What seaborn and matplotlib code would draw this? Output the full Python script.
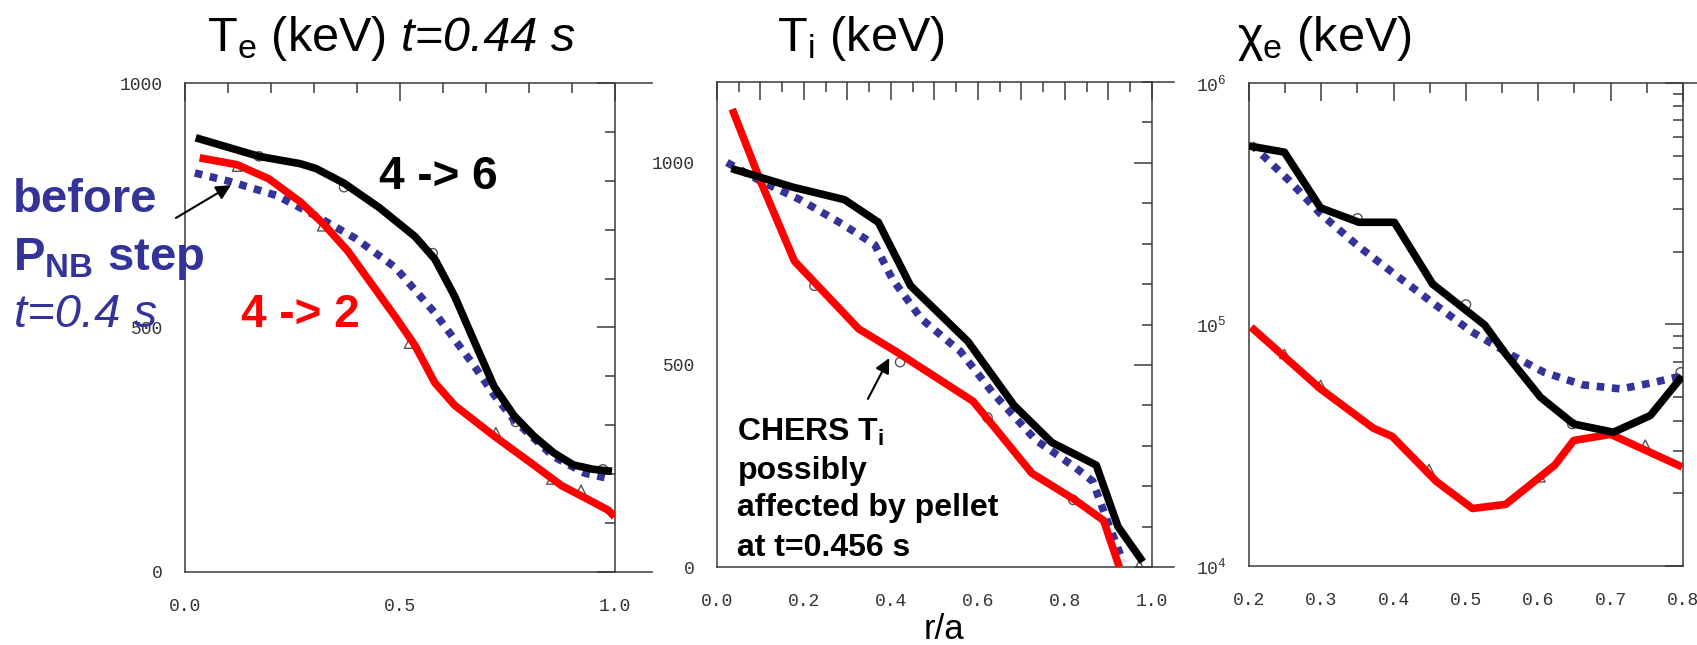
import matplotlib
matplotlib.use("Agg")
import matplotlib.pyplot as plt
import seaborn as sns
from matplotlib.ticker import FixedLocator

# Te profile (r/a vs Te, plotted on a 0-1000 scale)
te_up_x = [0.025, 0.172, 0.268, 0.305, 0.370, 0.452, 0.535, 0.581, 0.627, 0.673, 0.719, 0.765, 0.811, 0.857, 0.903, 0.949, 0.993]
te_up_y = [888, 850, 835, 825, 795, 745, 686, 640, 564, 471, 379, 320, 278, 244, 219, 210, 206]
te_dn_x = [0.034, 0.121, 0.195, 0.268, 0.323, 0.379, 0.434, 0.489, 0.535, 0.581, 0.627, 0.719, 0.811, 0.875, 0.949, 0.985, 0.999]
te_dn_y = [847, 833, 804, 757, 711, 656, 589, 522, 463, 387, 341, 278, 219, 177, 143, 126, 113]
te_pre_x = [0.023, 0.103, 0.213, 0.305, 0.397, 0.489, 0.581, 0.673, 0.719, 0.765, 0.857, 0.930, 0.976]
te_pre_y = [816, 799, 770, 728, 682, 623, 530, 421, 362, 311, 236, 202, 193]
te_circ_x = [0.172, 0.370, 0.576, 0.769, 0.972]
te_circ_y = [850, 787, 652, 307, 210]
te_tri_x = [0.121, 0.319, 0.521, 0.723, 0.852, 0.921]
te_tri_y = [829, 707, 467, 286, 189, 168]

# Ti profile
ti_up_x = [0.033, 0.174, 0.293, 0.371, 0.445, 0.577, 0.683, 0.770, 0.872, 0.922, 0.979]
ti_up_y = [986, 940, 909, 853, 696, 558, 400, 308, 252, 100, 13]
ti_dn_x = [0.035, 0.100, 0.178, 0.326, 0.412, 0.589, 0.724, 0.823, 0.889, 0.925]
ti_dn_y = [1133, 955, 757, 589, 533, 410, 232, 166, 115, 0]
ti_pre_x = [0.023, 0.100, 0.191, 0.289, 0.363, 0.404, 0.470, 0.560, 0.634, 0.733, 0.823, 0.864, 0.897, 0.934]
ti_pre_y = [1001, 955, 909, 848, 797, 711, 614, 533, 431, 314, 247, 212, 115, 13]
ti_circ_x = [0.224, 0.421, 0.622, 0.819]
ti_circ_y = [696, 507, 370, 166]
ti_tri_x = [0.971]
ti_tri_y = [5]

# chi_e profile (log scale)
chi_up_x = [0.200, 0.249, 0.299, 0.352, 0.401, 0.454, 0.526, 0.555, 0.603, 0.649, 0.704, 0.755, 0.799]
chi_up_y = [5.49e5, 5.17e5, 3.04e5, 2.65e5, 2.65e5, 1.47e5, 9.95e4, 7.55e4, 5.0e4, 3.87e4, 3.58e4, 4.2e4, 6.1e4]
chi_dn_x = [0.203, 0.251, 0.299, 0.372, 0.398, 0.459, 0.509, 0.555, 0.623, 0.649, 0.700, 0.799]
chi_dn_y = [9.75e4, 7.26e4, 5.41e4, 3.72e4, 3.44e4, 2.24e4, 1.73e4, 1.80e4, 2.62e4, 3.31e4, 3.51e4, 2.57e4]
chi_pre_x = [0.203, 0.256, 0.299, 0.352, 0.401, 0.454, 0.507, 0.560, 0.608, 0.661, 0.714, 0.758, 0.806]
chi_pre_y = [5.58e5, 3.93e5, 2.87e5, 2.1e5, 1.62e5, 1.23e5, 9.37e4, 7.55e4, 6.34e4, 5.63e4, 5.41e4, 5.74e4, 6.2e4]
chi_circ_x = [0.350, 0.500, 0.647, 0.797]
chi_circ_y = [2.75e5, 1.21e5, 3.87e4, 6.34e4]
chi_tri_x = [0.249, 0.299, 0.449, 0.603, 0.748]
chi_tri_y = [7.55e4, 5.62e4, 2.52e4, 2.33e4, 3.18e4]

BLUE = "#333399"
RED = "#ff0000"
GRAY = "#3a3a3a"
MONO = "Liberation Mono"

sns.set_style("white")
plt.rcParams["font.family"] = ["Liberation Sans", "DejaVu Sans"]
plt.rcParams["text.color"] = "black"
plt.rcParams["mathtext.fontset"] = "custom"
plt.rcParams["mathtext.rm"] = "Liberation Sans"
plt.rcParams["mathtext.it"] = "Liberation Sans:italic"
plt.rcParams["mathtext.bf"] = "Liberation Sans:bold"

fig = plt.figure(figsize=(16.97, 6.45), dpi=100)
ax1 = fig.add_axes([0.1090, 0.1132, 0.2534, 0.7581])
ax2 = fig.add_axes([0.4225, 0.1209, 0.2563, 0.7519])
ax3 = fig.add_axes([0.7360, 0.1225, 0.2557, 0.7488])


def profile(ax, x, y, color, dotted=False):
    ls = (0, (1, 1)) if dotted else "-"
    sns.lineplot(x=x, y=y, ax=ax, color=color, lw=5.5, linestyle=ls,
                 dash_capstyle="butt", solid_capstyle="butt",
                 estimator=None, sort=False, zorder=3)


def samples(ax, x, y, marker):
    sns.scatterplot(x=x, y=y, ax=ax, marker=marker, s=45, facecolor="none",
                    edgecolor="#555555", linewidth=1.0, zorder=2)


def frame(ax, xmaj, xlab, xmin, ymaj, ylab, ymin, top_end, bottom_end):
    ax.set_xticks(xmaj, labels=xlab)
    ax.xaxis.set_minor_locator(FixedLocator(xmin))
    ax.set_yticks(ymaj, labels=ylab)
    ax.yaxis.set_minor_locator(FixedLocator(ymin))
    ax.tick_params(which="both", direction="out", color=GRAY, width=1.1,
                   labelcolor="#333333", labelsize=13, labelfontfamily=MONO,
                   top=False, right=False)
    ax.tick_params(which="major", length=13)
    ax.tick_params(which="minor", length=7)
    ax.tick_params(axis="x", pad=6)
    ax.tick_params(axis="y", pad=3)
    for side in ["left", "right", "top", "bottom"]:
        ax.spines[side].set_color(GRAY)
        ax.spines[side].set_linewidth(1.1)
    lo = ax.get_xlim()[0]
    ax.spines["top"].set_bounds(lo, top_end)
    ax.spines["bottom"].set_bounds(lo, bottom_end)

    sx = ax.secondary_xaxis("top")
    sx.set_xticks(xmaj)
    sx.xaxis.set_minor_locator(FixedLocator(xmin))
    sx.tick_params(which="both", direction="in", color=GRAY, width=1.1, labeltop=False)
    sx.tick_params(which="major", length=13)
    sx.tick_params(which="minor", length=7)
    sx.spines["top"].set_visible(False)

    sy = ax.secondary_yaxis("right")
    sy.set_yticks(ymaj)
    sy.yaxis.set_minor_locator(FixedLocator(ymin))
    sy.tick_params(which="both", direction="in", color=GRAY, width=1.1, labelright=False)
    sy.tick_params(which="major", length=13)
    sy.tick_params(which="minor", length=7)
    sy.spines["right"].set_visible(False)


# ---- panel 1: Te ----
samples(ax1, te_circ_x, te_circ_y, "o")
samples(ax1, te_tri_x, te_tri_y, "^")
profile(ax1, te_pre_x, te_pre_y, BLUE, dotted=True)
profile(ax1, te_dn_x, te_dn_y, RED)
profile(ax1, te_up_x, te_up_y, "black")
ax1.set_xlim(0, 1.0)
ax1.set_ylim(0, 1000)
frame(ax1, [0, 0.5, 1.0], ["0.0", "0.5", "1.0"],
      [0.1, 0.2, 0.3, 0.4, 0.6, 0.7, 0.8, 0.9],
      [0, 500, 1000], ["0", "500", "1000"],
      [100, 200, 300, 400, 600, 700, 800, 900], 1.086, 1.086)

ax1.text(0.051, 1.065, r"T$_{\mathregular{e}}$ (keV)", transform=ax1.transAxes,
         fontsize=35, va="baseline")
ax1.text(0.502, 1.065, "t=0.44 s", transform=ax1.transAxes, fontsize=35,
         style="italic", va="baseline")
ax1.text(0.451, 783, "4 -> 6", fontsize=33, weight="bold", va="baseline")
ax1.text(0.130, 501, "4 -> 2", fontsize=33, weight="bold", color=RED, va="baseline")
ax1.text(-0.40, 736, "before", fontsize=34, weight="bold", color=BLUE, va="baseline")
ax1.text(-0.40, 618, r"P$_{\mathregular{NB}}$ step", fontsize=34, weight="bold",
         color=BLUE, va="baseline")
ax1.text(-0.397, 501, "t=0.4 s", fontsize=34, style="italic", color=BLUE,
         va="baseline", zorder=5)
ax1.annotate("", xy=(0.107, 791), xytext=(-0.021, 724), annotation_clip=False,
             arrowprops=dict(arrowstyle="-|>", color="black", lw=1.5,
                             mutation_scale=22, shrinkA=0, shrinkB=0))

# ---- panel 2: Ti ----
samples(ax2, ti_circ_x, ti_circ_y, "o")
samples(ax2, ti_tri_x, ti_tri_y, "^")
profile(ax2, ti_pre_x, ti_pre_y, BLUE, dotted=True)
profile(ax2, ti_dn_x, ti_dn_y, RED)
profile(ax2, ti_up_x, ti_up_y, "black")
ax2.set_xlim(0, 1.0)
ax2.set_ylim(0, 1200)
ti_xmaj = [round(0.1 * i, 1) for i in range(11)]
ti_xlab = ["%.1f" % v if i % 2 == 0 else "" for i, v in enumerate(ti_xmaj)]
frame(ax2, ti_xmaj, ti_xlab, [round(0.05 + 0.1 * i, 2) for i in range(10)],
      [0, 500, 1000], ["0", "500", "1000"],
      [100 * i for i in range(1, 13) if i not in (5, 10)], 1.05, 1.05)

ax2.text(0.138, 1.064, r"T$_{\mathregular{i}}$ (keV)", transform=ax2.transAxes,
         fontsize=35, va="baseline")
ax2.text(0.522, -0.148, "r/a", transform=ax2.transAxes, fontsize=25,
         ha="center", va="baseline")
ax2.text(0.047, 312, r"CHERS T$_{\mathregular{i}}$", fontsize=23, weight="bold", va="baseline")
ax2.text(0.047, 218, "possibly", fontsize=23, weight="bold", va="baseline")
ax2.text(0.047, 126, "affected by pellet", fontsize=23, weight="bold", va="baseline")
ax2.text(0.047, 28, "at t=0.456 s", fontsize=23, weight="bold", va="baseline")
ax2.annotate("", xy=(0.396, 517), xytext=(0.347, 416),
             arrowprops=dict(arrowstyle="-|>", color="black", lw=1.5,
                             mutation_scale=22, shrinkA=0, shrinkB=0))

# ---- panel 3: chi_e ----
ax3.set_yscale("log")
samples(ax3, chi_circ_x, chi_circ_y, "o")
samples(ax3, chi_tri_x, chi_tri_y, "^")
profile(ax3, chi_pre_x, chi_pre_y, BLUE, dotted=True)
profile(ax3, chi_dn_x, chi_dn_y, RED)
profile(ax3, chi_up_x, chi_up_y, "black")
ax3.set_xlim(0.2, 0.8)
ax3.set_ylim(1e4, 1e6)
chi_xmaj = [round(0.2 + 0.1 * i, 1) for i in range(7)]
frame(ax3, chi_xmaj, ["%.1f" % v for v in chi_xmaj],
      [round(0.25 + 0.1 * i, 2) for i in range(6)],
      [1e4, 1e5, 1e6],
      [r"$\mathregular{10^{4}}$", r"$\mathregular{10^{5}}$", r"$\mathregular{10^{6}}$"],
      [m * 10 ** e for e in (4, 5) for m in range(2, 10)], 0.82, 0.8)

ax3.text(-0.028, 1.066, r"χ$_{\mathregular{e}}$ (keV)", transform=ax3.transAxes,
         fontsize=35, va="baseline")

fig.savefig("out.png", dpi=100, facecolor="white")
